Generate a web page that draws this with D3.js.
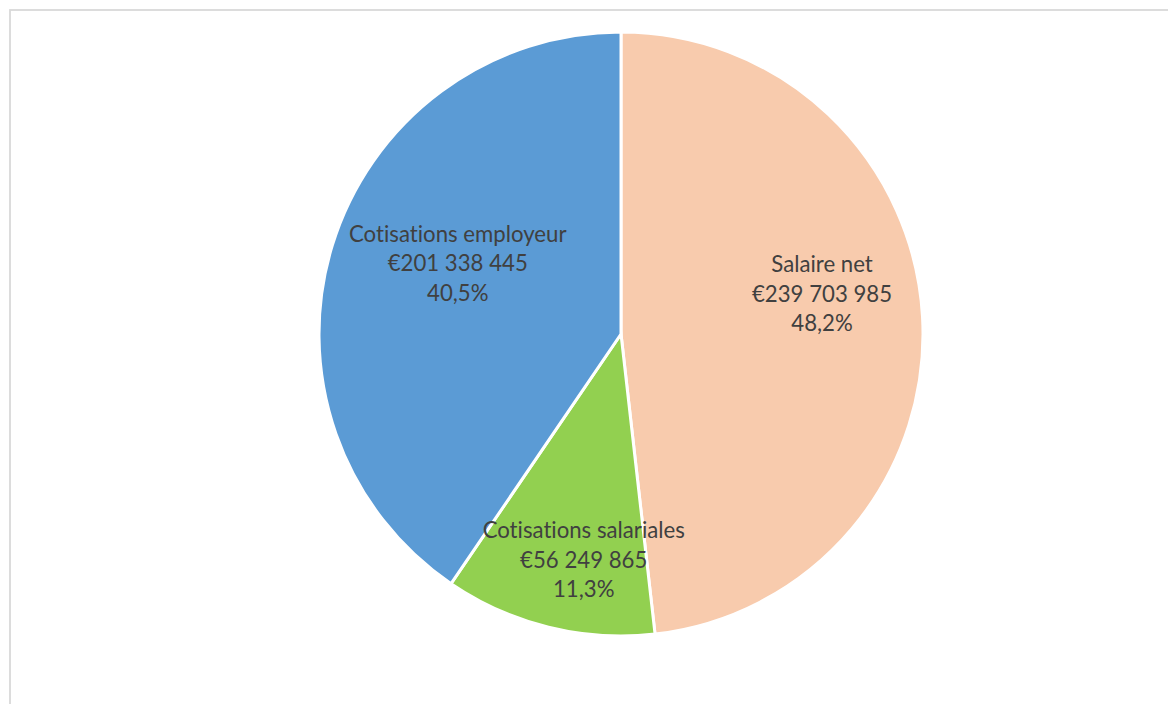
<!DOCTYPE html>
<html>
<head>
<meta charset="utf-8">
<script src="https://cdn.jsdelivr.net/npm/d3@7"></script>
<style>
  html, body { margin: 0; padding: 0; background: #fff; }
  svg { display: block; }
  text { font-variant-ligatures: none; font-feature-settings: "liga" 0; }
</style>
</head>
<body>
<svg id="chart" width="1168" height="704"></svg>
<script>
const categories = ["Salaire net", "Cotisations salariales", "Cotisations employeur"];
const values = [239703985, 56249865, 201338445];
const colors = ["#F8CBAD", "#92D050", "#5B9BD5"];

const W = 1168, H = 704;
const cx = 621, cy = 334, R = 302;
const svg = d3.select("#chart");

// chart frame
svg.append("rect")
  .attr("x", 10).attr("y", 10)
  .attr("width", W + 20).attr("height", H + 20)
  .attr("fill", "#fff")
  .attr("stroke", "#D9D9D9").attr("stroke-width", 1.8);

const total = d3.sum(values);
const pie = d3.pie().sort(null).value(d => d.value);
const data = categories.map((c, i) => ({ name: c, value: values[i], color: colors[i] }));
const arcs = pie(data);

const arc = d3.arc().innerRadius(0).outerRadius(R);
const labelArc = d3.arc().innerRadius(0.68 * R * 2).outerRadius(0); // centroid at 0.68R

const g = svg.append("g").attr("transform", `translate(${cx},${cy})`);

g.selectAll("path.slice")
  .data(arcs)
  .join("path")
  .attr("class", "slice")
  .attr("d", arc)
  .attr("fill", d => d.data.color)
  .attr("stroke", "#fff")
  .attr("stroke-width", 3)
  .attr("stroke-linejoin", "miter");

const fmtNum = v => "€" + d3.format(",")(v).replace(/,/g, " ");
const fmtPct = v => d3.format(".1%")(v).replace(".", ",");

// best-fit style nudges of labels relative to centroid
const nudges = [[-4, -28], [12, 27], [33, -10]];
const lineH = 29.5;

const labels = g.selectAll("text.lbl")
  .data(arcs)
  .join("text")
  .attr("class", "lbl")
  .attr("font-family", "Lato, 'Open Sans', sans-serif")
  .attr("font-size", 22.2)
  .attr("fill", "#404040")
  .attr("text-anchor", "middle")
  .attr("transform", (d, i) => {
    const [x, y] = labelArc.centroid(d);
    return `translate(${x + nudges[i][0]},${y + nudges[i][1]})`;
  });

labels.each(function(d) {
  const t = d3.select(this);
  const lines = [d.data.name, fmtNum(d.data.value), fmtPct(d.data.value / total)];
  lines.forEach((ln, k) => {
    t.append("tspan")
      .attr("x", 0)
      .attr("y", (k - 1) * lineH + 7.5)
      .text(ln);
  });
});
</script>
</body>
</html>
